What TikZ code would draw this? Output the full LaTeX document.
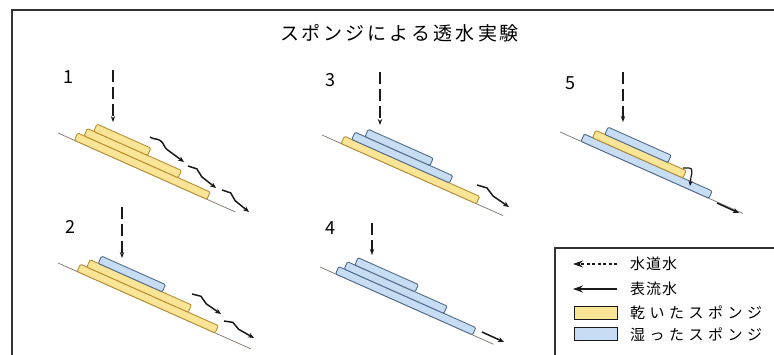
\documentclass[tikz,border=0pt]{standalone}
\usepackage{fontspec}
\setmainfont{Noto Sans CJK JP}
\usetikzlibrary{arrows.meta,decorations.pathmorphing}

% letter-spaced text: \spaced{gap}{characters}
\newcommand\spaced[2]{\def\spgap{#1}\spacedloop#2\relax}
\def\spacedloop#1{\ifx\relax#1\else#1\kern\spgap\expandafter\spacedloop\fi}

\definecolor{dryfill}{HTML}{FAE596}
\definecolor{dryline}{HTML}{B98E32}
\definecolor{wetfill}{HTML}{C6DDF3}
\definecolor{wetline}{HTML}{506A8C}
\definecolor{ink}{HTML}{1A1A1A}
\definecolor{groundline}{HTML}{7D6E66}
\definecolor{framegray}{HTML}{333333}

\begin{document}
\begin{tikzpicture}[x=1pt,y=-1pt,
  dry/.style={draw=dryline, fill=dryfill, line width=0.9pt, rounded corners=1.2pt},
  wet/.style={draw=wetline, fill=wetfill, line width=0.9pt, rounded corners=1.2pt},
  ground/.style={draw=groundline, line width=0.7pt},
  tap/.style={draw=ink, line width=1.2pt, dash pattern=on 12pt off 5pt,
    -{Stealth[length=6pt,width=4.5pt]}},
  runoff/.style={draw=ink, line width=1.5pt, -{Stealth[length=6pt,width=5pt]}},
  % one full wave, then a straight run into the tip; #1 = wave length
  wave/.style={runoff, decorate, decoration={snake, amplitude=3.2pt,
    segment length=#1, pre length=0pt, post length=7pt}},
  num/.style={font=\fontsize{18}{18}\selectfont, inner sep=0pt},
  legtext/.style={anchor=west, inner sep=0pt, font=\fontsize{15}{15}\selectfont},
  slope/.style={rotate=-24, x=1pt, y=1pt},
]
\useasboundingbox (0,0) rectangle (774,355);

% outer frame and title
\draw[framegray, line width=1.6pt] (12,355) -- (12,10) -- (774,10);
\node[font=\fontsize{19}{19}\selectfont, inner sep=0pt] (title) at (401,33)
  {\spaced{3pt}{スポンジによる透水実験}};

% ---------- case 1: three dry sponges ----------
\node[num] (n1) at (68,77) {1};
\begin{scope}[shift={(58,133)}, slope]
  \draw[ground] (0,0) -- (194,0);
  \draw[dry] (18,0) rectangle (163,8);
  \draw[dry] (25,8) rectangle (128,16);
  \draw[dry] (32,16) rectangle (91,24);
\end{scope}
\coordinate (t1a) at (113,70); \coordinate (t1b) at (113,122);
\draw[tap] (t1a) -- (t1b);
\coordinate (w1a) at (150,137); \coordinate (w1b) at (184,162);
\coordinate (w1c) at (188,166); \coordinate (w1d) at (216,188);
\coordinate (w1e) at (222,190); \coordinate (w1f) at (249,212);
\draw[wave=34.5pt] (w1a) -- (w1b);
\draw[wave=28pt] (w1c) -- (w1d);
\draw[wave=27.3pt] (w1e) -- (w1f);

% ---------- case 2: wet sponge on two dry ones ----------
\node[num] (n2) at (70,227) {2};
\begin{scope}[shift={(58,263)}, slope]
  \draw[ground] (0,0) -- (211,0);
  \draw[dry] (21,0) rectangle (172,8);
  \draw[dry] (28,8) rectangle (139,16);
  \draw[wet] (37,16) rectangle (107,24);
\end{scope}
\coordinate (t2a) at (122,207); \coordinate (t2b) at (122,258);
\draw[tap] (t2a) -- (t2b);
\coordinate (w2a) at (192,294); \coordinate (w2b) at (221,314);
\coordinate (w2c) at (224,321); \coordinate (w2d) at (254,338);
\draw[wave=27.7pt] (w2a) -- (w2b);
\draw[wave=27pt] (w2c) -- (w2d);

% ---------- case 3: two wet sponges on a dry one ----------
\node[num] (n3) at (330,80) {3};
\begin{scope}[shift={(322,135)}, slope]
  \draw[ground] (0,0) -- (198,0);
  \draw[dry] (21,0) rectangle (169,8);
  \draw[wet] (29,8) rectangle (136,16);
  \draw[wet] (40,16) rectangle (111,24);
\end{scope}
\coordinate (t3a) at (380,72); \coordinate (t3b) at (380,125);
\draw[tap] (t3a) -- (t3b);
\coordinate (w3a) at (477,185); \coordinate (w3b) at (509,207);
\draw[wave=31.3pt] (w3a) -- (w3b);

% ---------- case 4: three wet sponges ----------
\node[num] (n4) at (330,228) {4};
\begin{scope}[shift={(320,267)}, slope]
  \draw[ground] (0,0) -- (190,0);
  \draw[wet] (17,0) rectangle (167,8);
  \draw[wet] (23,8) rectangle (132,16);
  \draw[wet] (31,16) rectangle (97,24);
\end{scope}
\coordinate (t4a) at (372,223); \coordinate (t4b) at (372,255);
\draw[tap] (t4a) -- (t4b);
\coordinate (r4a) at (482,332); \coordinate (r4b) at (504,342);
\draw[runoff] (r4a) -- (r4b);

% ---------- case 5: dry sponge between two wet ones ----------
\node[num] (n5) at (570,83) {5};
\begin{scope}[shift={(560,132)}, slope]
  \draw[ground] (0,0) -- (200,0);
  \draw[wet] (23,0) rectangle (163,8);
  \draw[dry] (32,8) rectangle (131,16);
  \draw[wet] (42,16) rectangle (111,24);
\end{scope}
\coordinate (t5a) at (623,72); \coordinate (t5b) at (623,122);
\draw[tap] (t5a) -- (t5b);
\coordinate (h5a) at (683,168); \coordinate (h5b) at (690,186);
\draw[draw=ink, line width=1.2pt, -{Stealth[length=5pt,width=4pt]}]
  (h5a) -- (689,168) .. controls (693,168) and (692,173) .. (691,177) -- (h5b);
\coordinate (r5a) at (717,203); \coordinate (r5b) at (739,213);
\draw[runoff] (r5a) -- (r5b);

% ---------- legend ----------
\draw[framegray, line width=1.1pt] (555,355) -- (555,248) -- (774,248);
\coordinate (la) at (617,264); \coordinate (lb) at (573,264);
\draw[draw=ink, line width=1.1pt, dash pattern=on 3pt off 2.5pt,
  -{Stealth[length=10pt,width=7pt]}] (la) -- (lb);
\node[legtext] (lt1) at (630,264) {\spaced{1pt}{水道水}};
\coordinate (lc) at (617,289); \coordinate (ld) at (573,289);
\draw[draw=ink, line width=1.1pt, -{Stealth[length=10pt,width=7pt]}] (lc) -- (ld);
\node[legtext] (lt2) at (630,289) {\spaced{1pt}{表流水}};
\draw[fill=dryfill, draw=ink, line width=1pt] (574,307) rectangle (617,320);
\node[legtext] (lt3) at (630,313) {\spaced{4.5pt}{乾いたスポンジ}};
\draw[fill=wetfill, draw=ink, line width=1pt] (574,328) rectangle (617,341);
\node[legtext] (lt4) at (630,335) {\spaced{4.5pt}{湿ったスポンジ}};
\end{tikzpicture}
\end{document}
